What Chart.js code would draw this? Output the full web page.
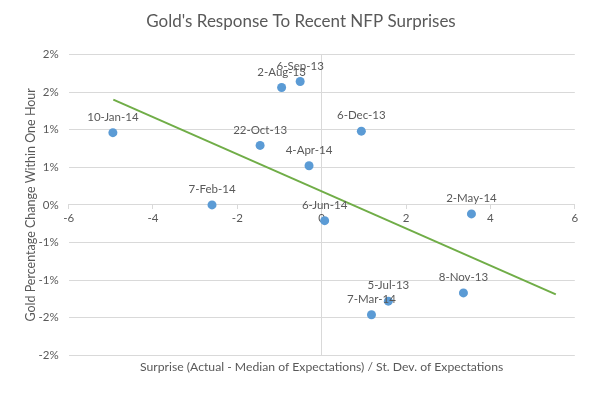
<!DOCTYPE html>
<html>
<head>
<meta charset="utf-8">
<script src="https://cdn.jsdelivr.net/npm/chart.js@4/dist/chart.umd.min.js"></script>
<style>
  html, body { margin: 0; padding: 0; background: #ffffff; }
  #wrap { width: 602px; height: 400px; position: relative; }
</style>
</head>
<body>
<div id="wrap"><canvas id="c" width="602" height="400"></canvas></div>
<script>
// ---- data ----
const releaseDates = ['10-Jan-14','7-Feb-14','22-Oct-13','2-Aug-13','6-Sep-13','4-Apr-14','6-Dec-13','6-Jun-14','2-May-14','5-Jul-13','7-Mar-14','8-Nov-13'];
const surprises    = [-4.95, -2.60, -1.46, -0.95, -0.51, -0.30, 0.94, 0.07, 3.55, 1.58, 1.18, 3.36];
const goldChange   = [0.96, 0.00, 0.79, 1.56, 1.64, 0.52, 0.98, -0.21, -0.12, -1.28, -1.46, -1.17];
const trendX = [-4.94, 5.55];
const trendY = [1.40, -1.19];
const yTickLabels = ['-2%','-2%','-1%','-1%','0%','1%','1%','2%','2%'];

const FONT = 'Lato, "Open Sans", sans-serif';
const TXT = '#595959';
const GRID = '#d9d9d9';

const pointLabels = {
  id: 'pointLabels',
  afterDatasetsDraw(chart) {
    const meta = chart.getDatasetMeta(0);
    const ctx = chart.ctx;
    ctx.save();
    ctx.font = '11.5px ' + FONT;
    ctx.fillStyle = TXT;
    ctx.textAlign = 'center';
    ctx.textBaseline = 'middle';
    meta.data.forEach((el, i) => {
      ctx.fillText(releaseDates[i], el.x, el.y - 15.5);
    });
    ctx.restore();
  }
};

new Chart(document.getElementById('c'), {
  data: {
    datasets: [
      {
        type: 'scatter',
        data: surprises.map((x, i) => ({ x: x, y: goldChange[i] })),
        backgroundColor: '#5b9bd5',
        borderColor: '#5b9bd5',
        borderWidth: 0,
        pointRadius: 4.5,
        pointHoverRadius: 4.5
      },
      {
        type: 'line',
        data: trendX.map((x, i) => ({ x: x, y: trendY[i] })),
        borderColor: '#70ad47',
        borderWidth: 2,
        pointRadius: 0,
        fill: false
      }
    ]
  },
  options: {
    responsive: false,
    animation: false,
    events: [],
    layout: { padding: 0 },
    plugins: {
      legend: { display: false },
      tooltip: { enabled: false },
      title: {
        display: true,
        text: "Gold's Response To Recent NFP Surprises",
        color: TXT,
        font: { family: FONT, size: 17, weight: 'normal', lineHeight: 1.2 },
        padding: { top: 11, bottom: 23 }
      },
      subtitle: {
        display: true,
        position: 'bottom',
        fullSize: false,
        text: 'Surprise (Actual - Median of Expectations) / St. Dev. of Expectations',
        color: TXT,
        font: { family: FONT, size: 12.2, weight: 'normal', lineHeight: 1.2 },
        padding: { top: 4, bottom: 26 }
      }
    },
    scales: {
      x: {
        type: 'linear',
        position: { y: 0 },
        min: -6, max: 6,
        ticks: { stepSize: 2, color: TXT, font: { family: FONT, size: 11.5 }, padding: 3 },
        grid: {
          drawOnChartArea: true,
          color: (c) => (c.tick && c.tick.value === 0) ? GRID : 'rgba(0,0,0,0)',
          tickColor: GRID,
          tickLength: 4
        },
        border: { display: true, color: GRID }
      },
      y: {
        type: 'linear',
        position: 'left',
        min: -2, max: 2,
        afterFit(scale) { scale.width = 68.6; },
        ticks: {
          stepSize: 0.5,
          color: TXT,
          font: { family: FONT, size: 11.5 },
          padding: 10,
          callback: (v, i) => yTickLabels[i]
        },
        grid: { color: GRID, drawTicks: false },
        border: { display: false },
        title: {
          display: true,
          text: 'Gold Percentage Change Within One Hour',
          color: TXT,
          font: { family: FONT, size: 12.5, weight: 'normal', lineHeight: 1.2 },
          padding: { top: 23.5, bottom: 0 }
        }
      },
      yRightMargin: {
        type: 'linear',
        position: 'right',
        min: -2, max: 2,
        afterFit(scale) { scale.width = 27.2; },
        ticks: { display: false },
        grid: { display: false, drawOnChartArea: false },
        border: { display: false }
      }
    }
  },
  plugins: [pointLabels]
});
</script>
</body>
</html>
